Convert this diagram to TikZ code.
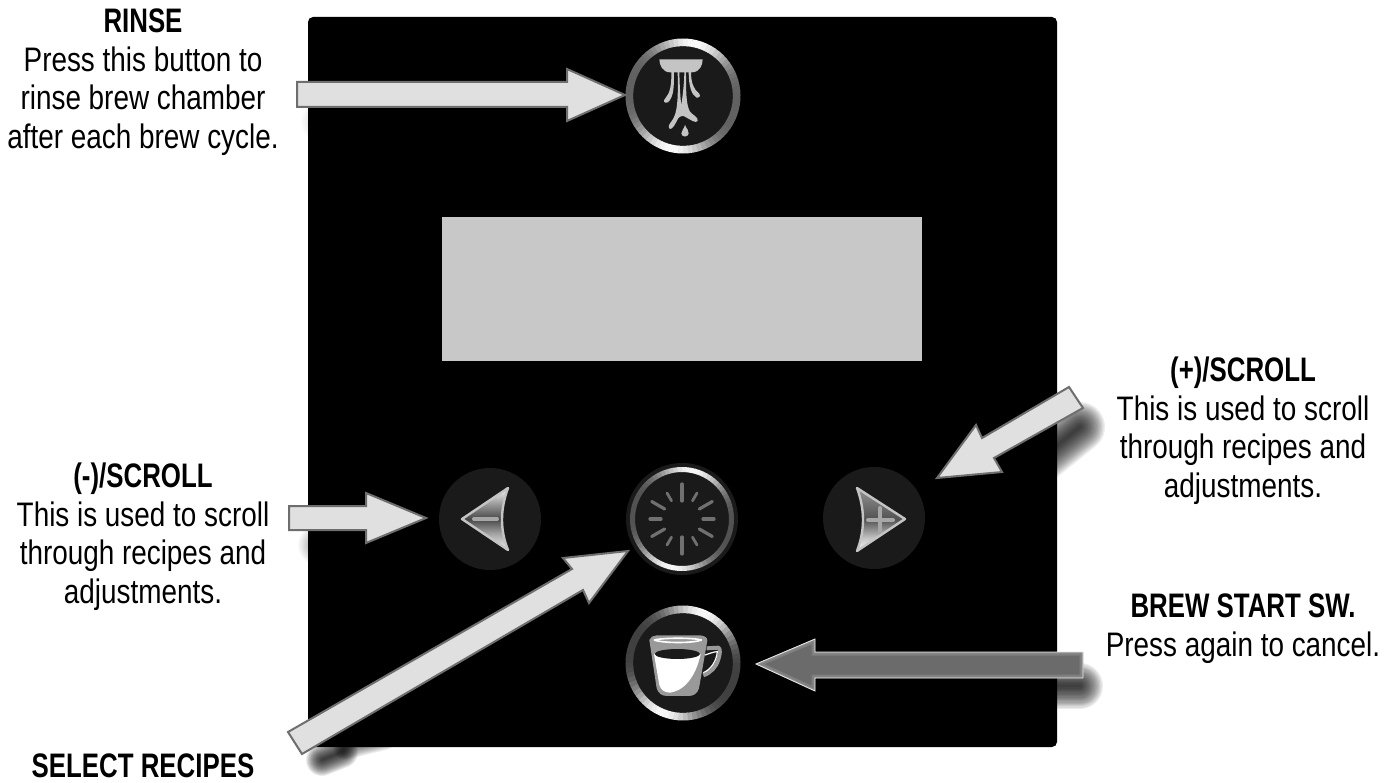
\documentclass[tikz,border=0pt]{standalone}
\usepackage{fontspec}
\setmainfont[FakeStretch=0.82,BoldFeatures={FakeStretch=0.76}]{Liberation Sans}
\usetikzlibrary{calc}
\definecolor{btn}{HTML}{1A1A1A}
\definecolor{arrowfill}{HTML}{E0E0E0}
\definecolor{arrowline}{HTML}{6E6E6E}
\definecolor{disp}{HTML}{C8C8C8}
\definecolor{tickgray}{HTML}{707070}
\definecolor{iconlight}{HTML}{C4C4C4}
\pgfdeclareverticalshading{minusmetal}{100bp}{color(0bp)=(white!95!black); color(25bp)=(white!95!black); color(38bp)=(black!35); color(50bp)=(black!72); color(62bp)=(black!40); color(75bp)=(white!97!black); color(100bp)=(white!97!black)}
\pgfdeclareverticalshading{plusmetal}{100bp}{color(0bp)=(white); color(25bp)=(white); color(36bp)=(black!25); color(50bp)=(black!68); color(75bp)=(black!42); color(100bp)=(black!42)}
\tikzset{
  label text/.style={align=center,inner sep=0pt,anchor=north,font=\fontsize{34}{38.5}\selectfont},
  block arrow/.style={draw=arrowline,fill=arrowfill,line width=2pt,line join=miter},
  round button/.style={circle,fill=btn,inner sep=0pt},
  glyph/.style={draw=iconlight,line width=2.4pt,line join=round},
  glyph mark/.style={draw=iconlight!85!black,line width=4pt,line cap=round},
}
% cx cy radius width phase base amp
\newcommand{\metalring}[7]{%
  \foreach \a in {0,5,...,355}{%
    \pgfmathsetmacro{\cc}{cos(\a-#5)}%
    \pgfmathsetmacro{\vv}{#6+#7*\cc*\cc*\cc*\cc}%
    \pgfmathsetmacro{\bb}{\a+5.6}%
    \draw[line width=#4pt,draw=white!\vv!black]
      ({#1+#3*cos(\a)},{#2-#3*sin(\a)}) -- ({#1+#3*cos(\bb)},{#2-#3*sin(\bb)});
  }}
% from to width opacity
\newcommand{\softshadow}[4]{%
  \foreach \i in {0,...,17}{%
    \pgfmathsetmacro{\ww}{#3*(1-\i/18)}%
    \draw[black,line cap=round,opacity=#4,line width=\ww pt] (#1) -- (#2);
  }}
\begin{document}
\begin{tikzpicture}[x=1pt,y=-1pt]
\useasboundingbox (0,0) rectangle (1392,783);
\fill[white] (0,0) rectangle (1392,783);

% shadows
\softshadow{1045,455}{1080,427}{50}{0.07}
\softshadow{1050,686}{1080,686}{46}{0.07}
\softshadow{322,760}{342,752}{32}{0.07}
\softshadow{345,748}{385,738}{24}{0.04}
\softshadow{322,122}{324,122}{42}{0.012}
\softshadow{318,545}{320,545}{40}{0.025}

% panel
\node[fill=black,rounded corners=5pt,minimum width=749pt,minimum height=730pt,inner sep=0pt] (panel) at (682.5,382) {};
\node[fill=disp,minimum width=480pt,minimum height=144pt,inner sep=0pt] (display) at (682,289) {};

% rinse button
\node[round button,minimum size=110pt] (rinsebtn) at (683,96) {};
\metalring{683}{96}{53.7}{7.6}{75}{38}{60}
\begin{scope}[shift={(590,30)},x=0.3333pt,y=-0.3333pt]
  \fill[iconlight] (208,88) -- (338,88) .. controls (338,105) and (330,127) .. (305,127) -- (240,127) .. controls (218,127) and (208,105) .. (208,88) -- cycle;
  \fill[iconlight] (244,125) -- (252,125) .. controls (252,170) and (252,200) .. (234,217) .. controls (222,222) and (218,212) .. (226,205) .. controls (240,190) and (245,165) .. (244,125) -- cycle;
  \fill[iconlight] (296,125) .. controls (296,170) and (305,195) .. (320,203) .. controls (332,205) and (332,193) .. (325,188) .. controls (312,178) and (303,160) .. (303,125) -- cycle;
  \fill[iconlight] (263,125) -- (268,125) .. controls (269,170) and (271,205) .. (274,225) .. controls (277,205) and (283,160) .. (283,125) -- (288,125) .. controls (288,180) and (288,225) .. (300,245) .. controls (308,255) and (326,262) .. (323,273) .. controls (318,282) and (300,268) .. (288,262) .. controls (280,256) and (272,256) .. (264,266) .. controls (256,282) and (248,298) .. (240,297) .. controls (232,292) and (238,282) .. (246,272) .. controls (262,250) and (265,210) .. (263,125) -- cycle;
  \fill[iconlight] (285,285) .. controls (290,298) and (298,302) .. (296,311) .. controls (293,323) and (276,322) .. (274,311) .. controls (273,302) and (282,298) .. (285,285) -- cycle;
\end{scope}

% minus button
\node[round button,minimum size=102pt] (minusbtn) at (490,519) {};
\shade[glyph,shading=minusmetal]
  (462,519) -- (508,488) .. controls (500,510) and (500,530) .. (508,550) -- cycle;
\draw[glyph mark] (474,519) -- (497,519);

% select button
\node[round button,minimum size=112pt] (selectbtn) at (682,519) {};
\metalring{682}{519}{49.5}{5}{75}{32}{65}
\foreach \ang/\ra/\rb/\wd in {90/18/35/3.2,270/18/35/3.2,60/21/30/2.8,120/21/30/2.8,240/21/30/2.8,300/21/30/2.8,30/20/35/3.2,150/20/35/3.2,210/20/35/3.2,330/20/35/3.2,0/21/32/3.2,180/21/32/3.2}{
  \draw[tickgray,line cap=round,line width=\wd pt]
    ({682+\ra*cos(\ang)},{519-\ra*sin(\ang)}) -- ({682+\rb*cos(\ang)},{519-\rb*sin(\ang)});
}

% plus button
\node[round button,minimum size=102pt] (plusbtn) at (874,518) {};
\shade[glyph,shading=plusmetal]
  (905,519) -- (857,488) .. controls (865,510) and (865,530) .. (857,551) -- cycle;
\draw[glyph mark] (868,520) -- (893,520);
\draw[glyph mark] (880,508) -- (880,532);

% cup button
\node[round button,minimum size=110pt] (cupbtn) at (683,663) {};
\metalring{683}{663}{53.7}{7.6}{65}{25}{72}
\begin{scope}[shift={(590,590)},x=0.3333pt,y=-0.3333pt]
  \draw[draw=black!40,line width=4pt,line join=round,fill=none] (350,175) -- (385,173) .. controls (392,175) and (390,195) .. (385,208) .. controls (378,232) and (362,248) .. (340,256);
  \fill[black!40] (178,150) .. controls (180,140) and (190,138) .. (200,136) -- (330,136) .. controls (345,138) and (352,142) .. (352,152) -- (327,295) .. controls (322,312) and (310,318) .. (295,318) -- (232,318) .. controls (215,318) and (205,310) .. (200,295) -- cycle;
  \draw[white,line width=1.6pt] (192,150) .. controls (220,143) and (310,143) .. (335,150);
  \draw[white,line width=1.6pt] (192,150) .. controls (220,160) and (310,160) .. (335,150);
  \fill[white] (192,192) -- (332,192) .. controls (322,240) and (295,300) .. (240,308) .. controls (222,308) and (212,298) .. (208,285) -- cycle;
  \fill[btn] (262,192) ellipse [x radius=68, y radius=15];
  \draw[white,line width=1.2pt] (345,195) .. controls (360,190) and (372,185) .. (382,185) .. controls (380,210) and (365,238) .. (340,248);
\end{scope}

% arrows
\coordinate (rinsetip) at (625,95);
\coordinate (minustip) at (426,518);
\coordinate (plustip) at (937,478);
\coordinate (selecttip) at (628,551);
\coordinate (brewtip) at (756,664);
\draw[block arrow] (297,82) -- (567,82) -- (567,69) -- (rinsetip) -- (567,121) -- (567,107) -- (297,107) -- cycle;
\draw[block arrow] (289,506) -- (366,506) -- (366,493) -- (minustip) -- (366,543) -- (366,530) -- (289,530) -- cycle;
\draw[block arrow] (plustip) -- (976,425) -- (982,438) -- (1069,387) -- (1083,408) -- (994,458) -- (1002,472) -- cycle;
\draw[block arrow] (selecttip) -- (563,558) -- (572,569) -- (288,732) -- (302,754) -- (583,590) -- (589,603) -- cycle;

% brew arrow
\begin{scope}
  \clip (brewtip) -- (815,639) -- (815,652) -- (1083,652) -- (1083,678) -- (815,678) -- (815,691) -- cycle;
  \fill[black!58] (740,630) rectangle (1090,700);
  \draw[black!42,line width=7pt,opacity=0.5] (brewtip) -- (815,639) -- (815,652) -- (1083,652) -- (1083,678) -- (815,678) -- (815,691) -- cycle;
  \draw[black!42,line width=3pt,opacity=0.7] (brewtip) -- (815,639) -- (815,652) -- (1083,652) -- (1083,678) -- (815,678) -- (815,691) -- cycle;
\end{scope}
\draw[white!90!black,line width=0.9pt] (brewtip) -- (815,639) -- (815,652) -- (1083,652) -- (1083,678) -- (815,678) -- (815,691) -- cycle;

% labels
\node[label text] (rinsetxt) at (143,9) {\textbf{RINSE}\\Press this button to\\rinse brew chamber\\after each brew cycle.};
\node[label text] (minustxt) at (143,463) {\textbf{(-)/SCROLL}\\This is used to scroll\\through recipes and\\adjustments.};
\node[label text] (plustxt) at (1243,357) {\textbf{(+)/SCROLL}\\This is used to scroll\\through recipes and\\adjustments.};
\node[label text] (brewtxt) at (1243,594) {\textbf{BREW START SW.}\\Press again to cancel.};
\node[label text] (selecttxt) at (143,754) {\textbf{SELECT RECIPES}};
\end{tikzpicture}
\end{document}
